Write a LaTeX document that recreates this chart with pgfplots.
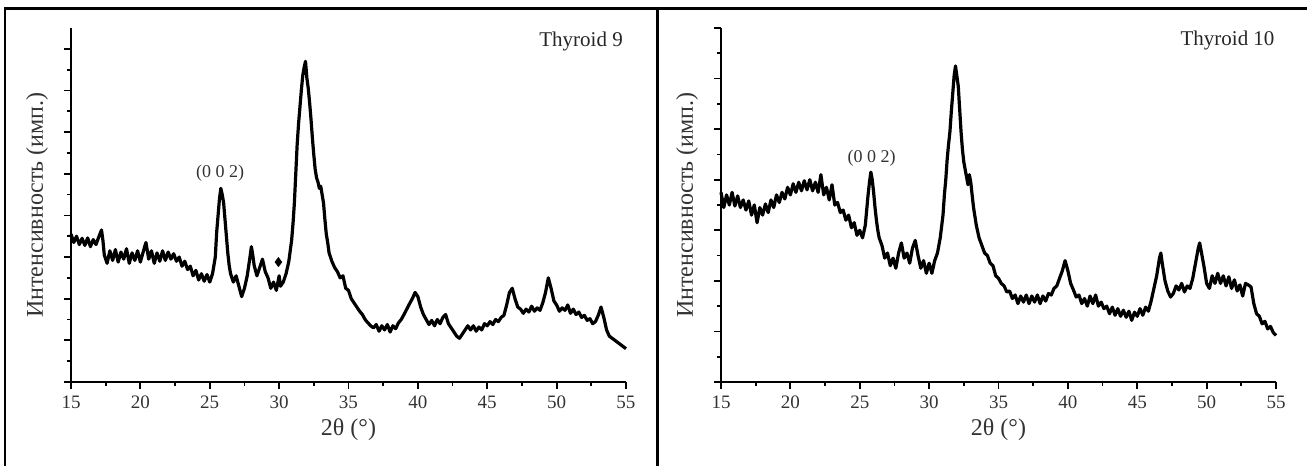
\documentclass[border=0pt]{standalone}
\usepackage{fontspec}
\setmainfont{Liberation Serif}
\usepackage{pgfplots}
\pgfplotsset{compat=1.18}

\pgfplotsset{xrd/.style={
  scale only axis, width=277.5pt, height=177pt, anchor=south west,
  xmin=15, xmax=55, ymin=0,
  axis x line=bottom, axis y line=left,
  axis line style={-, line width=0.9pt},
  every tick/.style={line width=0.9pt, black},
  tick align=outside,
  major tick length=3.5pt, minor tick length=2pt,
  xtick={15,20,...,55}, minor x tick num=1,
  minor y tick num=1, yticklabels={},
  /pgf/number format/assume math mode=true,
  ticklabel style={font=\fontsize{9.5}{10}\selectfont, text=black!80},
  xlabel={2θ (°)}, ylabel={Интенсивность (имп.)},
  label style={font=\fontsize{12}{14}\selectfont, text=black!80},
  xlabel style={at={(axis description cs:0.5,-0.136)}, anchor=center},
  ylabel style={at={(axis description cs:-0.061,0.5)}, anchor=center},
  clip=false,
}}

\begin{document}
\begin{tikzpicture}
\useasboundingbox (0,0) rectangle (653.5pt,233pt);
% frame of the table
\draw[line width=1.4pt] (2.5pt,0) -- (2.5pt,228.6pt) -- (653.5pt,228.6pt);
\draw[line width=1.4pt] (328.7pt,0) -- (328.7pt,228.6pt);

% Thyroid 9
\begin{axis}[xrd, at={(35.5pt,42pt)}, ymax=8.5, ytick={0,1,...,8}]
\addplot[black, line width=1.6pt, line join=round] table {
15.0 3.55
15.2 3.35
15.4 3.50
15.6 3.30
15.8 3.45
16.0 3.28
16.2 3.46
16.4 3.25
16.6 3.42
16.8 3.30
17.0 3.48
17.2 3.65
17.3 3.40
17.4 3.05
17.6 2.85
17.8 3.15
18.0 2.92
18.2 3.18
18.4 2.88
18.6 3.12
18.8 2.95
19.0 3.20
19.2 2.85
19.4 3.10
19.6 2.92
19.8 3.15
20.0 2.88
20.2 3.12
20.4 3.35
20.6 2.95
20.8 3.15
21.0 2.85
21.2 3.10
21.4 2.90
21.6 3.15
21.8 2.92
22.0 3.12
22.2 2.95
22.4 3.08
22.6 2.90
22.8 3.00
23.0 2.78
23.2 2.90
23.4 2.70
23.6 2.78
23.8 2.55
24.0 2.68
24.2 2.45
24.4 2.60
24.6 2.42
24.8 2.58
25.0 2.40
25.2 2.60
25.4 3.00
25.5 3.60
25.6 4.00
25.7 4.40
25.8 4.65
25.9 4.50
26.0 4.30
26.1 3.90
26.2 3.50
26.3 3.10
26.4 2.80
26.5 2.60
26.7 2.40
26.9 2.55
27.1 2.30
27.3 2.05
27.5 2.25
27.7 2.55
27.9 3.00
28.0 3.25
28.1 3.05
28.2 2.80
28.4 2.55
28.6 2.75
28.8 2.95
29.0 2.65
29.2 2.50
29.4 2.25
29.6 2.40
29.8 2.20
30.0 2.55
30.1 2.30
30.3 2.40
30.5 2.60
30.7 2.90
30.9 3.40
31.0 3.80
31.1 4.30
31.2 5.00
31.3 5.70
31.4 6.20
31.5 6.60
31.6 7.00
31.7 7.35
31.8 7.55
31.9 7.70
32.0 7.30
32.1 7.05
32.2 6.70
32.3 6.30
32.4 5.85
32.5 5.45
32.6 5.10
32.7 4.90
32.8 4.80
32.9 4.65
33.0 4.70
33.1 4.50
33.2 4.30
33.3 3.90
33.4 3.55
33.5 3.35
33.6 3.10
33.8 2.90
34.0 2.75
34.2 2.65
34.4 2.50
34.6 2.55
34.8 2.25
35.0 2.20
35.2 2.00
35.4 1.90
35.6 1.80
35.8 1.70
36.0 1.62
36.2 1.50
36.4 1.42
36.6 1.35
36.8 1.30
37.0 1.38
37.2 1.22
37.4 1.35
37.6 1.25
37.8 1.38
38.0 1.20
38.2 1.35
38.4 1.28
38.6 1.42
38.8 1.50
39.0 1.62
39.2 1.75
39.4 1.88
39.6 2.00
39.8 2.15
40.0 2.05
40.2 1.80
40.4 1.62
40.6 1.50
40.8 1.38
41.0 1.48
41.2 1.35
41.4 1.50
41.6 1.40
41.8 1.55
42.0 1.62
42.2 1.40
42.4 1.30
42.6 1.20
42.8 1.10
43.0 1.05
43.2 1.15
43.4 1.25
43.6 1.35
43.8 1.25
44.0 1.35
44.2 1.22
44.4 1.32
44.6 1.25
44.8 1.40
45.0 1.35
45.2 1.45
45.4 1.38
45.6 1.50
45.8 1.45
46.0 1.55
46.2 1.60
46.4 1.85
46.6 2.15
46.8 2.25
47.0 2.00
47.2 1.80
47.4 1.75
47.6 1.65
47.8 1.75
48.0 1.68
48.2 1.82
48.4 1.70
48.6 1.78
48.8 1.72
49.0 1.90
49.2 2.15
49.4 2.50
49.6 2.25
49.8 1.95
50.0 1.85
50.2 1.70
50.4 1.78
50.6 1.72
50.8 1.85
51.0 1.65
51.2 1.75
51.4 1.62
51.6 1.68
51.8 1.55
52.0 1.60
52.2 1.48
52.4 1.52
52.6 1.40
52.8 1.45
53.0 1.60
53.2 1.80
53.4 1.55
53.6 1.25
53.8 1.10
54.0 1.05
54.2 1.00
54.4 0.95
54.6 0.90
54.8 0.85
55.0 0.80
};
\addplot[only marks, mark=diamond*, mark size=2.2pt, black] coordinates {(29.95,2.88)};
\node[font=\fontsize{9}{10}\selectfont, text=black!80] at (axis cs:25.75,5.02) {(0 0 2)};
\node[anchor=north east, inner sep=0pt, font=\fontsize{10.5}{12}\selectfont, text=black!85] at (rel axis cs:0.995,0.99) {Thyroid 9};
\end{axis}

% Thyroid 10
\begin{axis}[xrd, at={(360.5pt,42pt)}, ymax=7, ytick={0,1,...,7}]
\addplot[black, line width=1.6pt, line join=round] table {
15.0 3.75
15.2 3.45
15.4 3.70
15.6 3.50
15.8 3.75
16.0 3.48
16.2 3.68
16.4 3.45
16.6 3.60
16.8 3.40
17.0 3.58
17.2 3.30
17.4 3.50
17.6 3.15
17.8 3.45
18.0 3.30
18.2 3.52
18.4 3.35
18.6 3.60
18.8 3.45
19.0 3.70
19.2 3.55
19.4 3.75
19.6 3.62
19.8 3.85
20.0 3.70
20.2 3.92
20.4 3.75
20.6 3.95
20.8 3.78
21.0 3.98
21.2 3.80
21.4 4.00
21.6 3.78
21.8 3.95
22.0 3.75
22.2 4.10
22.4 3.70
22.6 3.85
22.8 3.60
23.0 3.90
23.2 3.50
23.4 3.55
23.6 3.35
23.8 3.40
24.0 3.20
24.2 3.30
24.4 3.05
24.6 3.15
24.8 2.90
25.0 3.00
25.2 2.85
25.4 3.10
25.5 3.40
25.6 3.70
25.7 3.95
25.8 4.15
25.9 4.00
26.0 3.75
26.1 3.45
26.2 3.20
26.3 3.00
26.4 2.85
26.6 2.70
26.8 2.45
27.0 2.55
27.2 2.30
27.4 2.45
27.6 2.25
27.8 2.55
28.0 2.75
28.2 2.45
28.4 2.55
28.6 2.35
28.8 2.65
29.0 2.80
29.2 2.50
29.4 2.25
29.6 2.40
29.8 2.15
30.0 2.35
30.2 2.15
30.4 2.40
30.6 2.55
30.8 2.85
31.0 3.30
31.1 3.70
31.2 4.00
31.3 4.40
31.4 4.70
31.5 4.95
31.6 5.35
31.7 5.70
31.8 6.05
31.9 6.25
32.0 6.05
32.1 5.85
32.2 5.40
32.3 4.95
32.4 4.60
32.5 4.35
32.6 4.20
32.7 4.05
32.8 3.90
32.9 4.10
33.0 3.95
33.1 3.70
33.2 3.45
33.4 3.10
33.6 2.85
33.8 2.70
34.0 2.55
34.2 2.50
34.4 2.35
34.6 2.30
34.8 2.10
35.0 2.05
35.2 1.95
35.4 1.90
35.6 1.78
35.8 1.80
36.0 1.65
36.2 1.72
36.4 1.55
36.6 1.70
36.8 1.58
37.0 1.72
37.2 1.55
37.4 1.70
37.6 1.58
37.8 1.72
38.0 1.55
38.2 1.70
38.4 1.60
38.6 1.75
38.8 1.72
39.0 1.85
39.2 1.90
39.4 2.05
39.6 2.20
39.8 2.40
40.0 2.20
40.2 1.95
40.4 1.82
40.6 1.68
40.8 1.72
41.0 1.55
41.2 1.65
41.4 1.50
41.6 1.70
41.8 1.55
42.0 1.72
42.2 1.50
42.4 1.58
42.6 1.45
42.8 1.50
43.0 1.35
43.2 1.48
43.4 1.32
43.6 1.45
43.8 1.30
44.0 1.42
44.2 1.28
44.4 1.40
44.6 1.22
44.8 1.38
45.0 1.30
45.2 1.45
45.4 1.32
45.6 1.48
45.8 1.40
46.0 1.60
46.2 1.85
46.4 2.10
46.6 2.45
46.7 2.55
46.8 2.35
47.0 2.00
47.2 1.80
47.4 1.68
47.6 1.75
47.8 1.90
48.0 1.82
48.2 1.95
48.4 1.78
48.6 1.90
48.8 1.85
49.0 2.05
49.2 2.35
49.4 2.65
49.5 2.75
49.6 2.60
49.8 2.30
50.0 1.95
50.2 1.85
50.4 2.10
50.6 1.95
50.8 2.15
51.0 1.95
51.2 2.10
51.4 1.90
51.6 2.08
51.8 1.85
52.0 2.02
52.2 1.80
52.4 1.92
52.6 1.70
52.8 1.95
53.0 1.92
53.2 1.88
53.4 1.55
53.6 1.35
53.8 1.30
54.0 1.15
54.2 1.20
54.4 1.05
54.6 1.10
54.8 0.98
55.0 0.92
};
\node[font=\fontsize{9}{10}\selectfont, text=black!80] at (axis cs:25.85,4.43) {(0 0 2)};
\node[anchor=north east, inner sep=0pt, font=\fontsize{10.5}{12}\selectfont, text=black!85] at (rel axis cs:0.998,0.994) {Thyroid 10};
\end{axis}
\end{tikzpicture}
\end{document}
